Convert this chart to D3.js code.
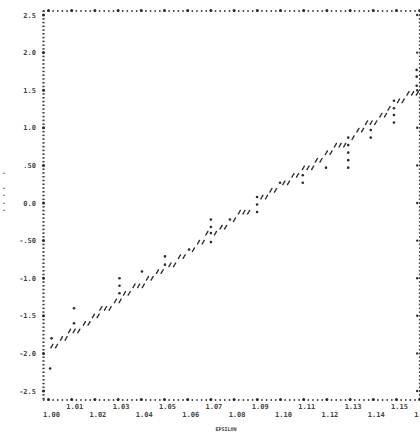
<!DOCTYPE html>
<html>
<head>
<meta charset="utf-8">
<script src="https://cdn.jsdelivr.net/npm/d3@7/dist/d3.min.js"></script>
<style>
  html, body { margin: 0; padding: 0; background: #fff; }
  svg { display: block; }
  .lbl { font-family: 'DejaVu Sans Mono', monospace; font-weight: bold; fill: #444; }
</style>
</head>
<body>
<div id="container"></div>
<script>
// y tick values and their printed labels
const yTicks = [2.5, 2.0, 1.5, 1.0, 0.5, 0.0, -0.5, -1.0, -1.5, -2.0, -2.5];
const yTickLabels = ['2.5', '2.0', '1.5', '1.0', '.50', '0.0', '-.50', '-1.0', '-1.5', '-2.0', '-2.5'];

// x tick values and labels
const xTicks = [1.00, 1.01, 1.02, 1.03, 1.04, 1.05, 1.06, 1.07, 1.08, 1.09, 1.10, 1.11, 1.12, 1.13, 1.14, 1.15, 1.16];
const xTickLabels = ['1.00', '1.01', '1.02', '1.03', '1.04', '1.05', '1.06', '1.07', '1.08', '1.09', '1.10', '1.11', '1.12', '1.13', '1.14', '1.15', '1.16'];

// printed "/" characters: [epsilon of first char, value, number of chars in the row]
const lineRuns = [
  [1.0015, -1.90, 2], [1.0056, -1.80, 2], [1.0091, -1.70, 3], [1.0155, -1.60, 2],
  [1.0194, -1.50, 2], [1.0226, -1.40, 3], [1.0289, -1.30, 2], [1.0328, -1.20, 2],
  [1.0369, -1.10, 3], [1.0427, -1.00, 2], [1.0470, -0.91, 2], [1.0524, -0.82, 2],
  [1.0565, -0.71, 2], [1.0625, -0.62, 1], [1.0647, -0.52, 2], [1.0683, -0.40, 1],
  [1.0720, -0.40, 1], [1.0744, -0.32, 2], [1.0802, -0.22, 1], [1.0823, -0.12, 3],
  [1.0920, 0.08, 2], [1.0959, 0.17, 2], [1.1015, 0.27, 2], [1.1054, 0.37, 2],
  [1.1099, 0.47, 3], [1.1155, 0.57, 2], [1.1198, 0.67, 2], [1.1237, 0.77, 3],
  [1.1313, 0.87, 1], [1.1334, 0.97, 2], [1.1371, 1.07, 3], [1.1433, 1.17, 2],
  [1.1468, 1.26, 1], [1.1509, 1.36, 2], [1.1550, 1.46, 3]
];

// printed "*" points: [epsilon, value]
const starPts = [
  [1.0007, -2.20], [1.0013, -1.80], [1.0110, -1.60], [1.0110, -1.40],
  [1.0306, -1.20], [1.0306, -1.10], [1.0306, -1.00], [1.0403, -0.91],
  [1.0502, -0.82], [1.0502, -0.71], [1.0606, -0.62],
  [1.0700, -0.52], [1.0700, -0.40], [1.0700, -0.32], [1.0700, -0.22],
  [1.0782, -0.22], [1.0899, -0.12], [1.0899, -0.02], [1.0899, 0.08],
  [1.0998, 0.27], [1.1096, 0.27], [1.1096, 0.37], [1.1196, 0.47],
  [1.1292, 0.47], [1.1292, 0.57], [1.1292, 0.67], [1.1292, 0.77], [1.1292, 0.87],
  [1.1389, 0.87], [1.1389, 0.97],
  [1.1489, 1.07], [1.1489, 1.17], [1.1489, 1.26], [1.1489, 1.36],
  [1.1587, 1.56], [1.1587, 1.68], [1.1587, 1.77]
];

const width = 420, height = 434;
const colStep = 0.002, rowStep = 0.05;

const svg = d3.select('#container').append('svg')
  .attr('width', width)
  .attr('height', height);

const x = d3.scaleLinear().domain([1.0, 1.16]).range([48.5, 419.7]);
const y = d3.scaleLinear().domain([-2.5, 2.5]).range([391, 15]);

const axisX = x(1.0) - 5;      // left border column
const rightX = x(1.16);
const topY = y(2.5) - 4;
const botY = y(-2.5) + 9;

const ink = '#2b2b2b';
const frame = svg.append('g').attr('fill', '#3a3a3a');

// left and right border: one mark per printer row
const rows = d3.range(2.55, -2.62, -rowStep);
frame.selectAll('.lrow').data(rows).enter()
  .append('rect')
  .attr('x', axisX - 1.1)
  .attr('y', d => y(d) - 0.7)
  .attr('width', 2.2)
  .attr('height', 1.5);
frame.selectAll('.rrow').data(rows).enter()
  .append('circle')
  .attr('cx', rightX)
  .attr('cy', d => y(d))
  .attr('r', 0.9);

// tick marks on left / right border
frame.selectAll('.ltick').data(yTicks).enter()
  .append('circle')
  .attr('cx', axisX)
  .attr('cy', d => y(d))
  .attr('r', 1.5)
  .attr('fill', ink);
frame.selectAll('.rtick').data(yTicks).enter()
  .append('circle')
  .attr('cx', rightX - 2.5)
  .attr('cy', d => y(d))
  .attr('r', 1.2)
  .attr('fill', ink);

// top and bottom border: one mark per printer column
const cols = d3.range(-1, 81).map(k => 1 + k * colStep);
[topY, botY].forEach(yy => {
  frame.append('g').selectAll('circle').data(cols).enter()
    .append('circle')
    .attr('cx', d => x(d))
    .attr('cy', yy)
    .attr('r', 0.9);
  frame.append('g').selectAll('circle').data(xTicks).enter()
    .append('circle')
    .attr('cx', d => x(d))
    .attr('cy', yy - 0.5)
    .attr('r', 1.5)
    .attr('fill', ink);
});

// y tick labels
svg.append('g').selectAll('text').data(yTicks).enter()
  .append('text')
  .attr('class', 'lbl')
  .attr('x', 36)
  .attr('y', d => y(d) + 2.5)
  .attr('text-anchor', 'end')
  .attr('font-size', 7)
  .text((d, i) => yTickLabels[i]);

// x tick labels, staggered on two lines
svg.append('g').selectAll('text').data(xTicks).enter()
  .append('text')
  .attr('class', 'lbl')
  .attr('x', d => x(d) + 3)
  .attr('y', (d, i) => i % 2 === 0 ? 417 : 409)
  .attr('text-anchor', 'middle')
  .attr('font-size', 7)
  .text((d, i) => xTickLabels[i]);

// axis titles
svg.append('text')
  .attr('class', 'lbl')
  .attr('x', 226)
  .attr('y', 431)
  .attr('text-anchor', 'middle')
  .attr('font-size', 5)
  .text('EPSILON');

svg.append('g').selectAll('text').data(['.', '', '.', '.', '.', '.']).enter()
  .append('text')
  .attr('class', 'lbl')
  .attr('x', 2)
  .attr('y', (d, i) => 174 + i * 7.4)
  .attr('font-size', 7)
  .text(d => d);

// expand each printed row into its characters
const slashes = [];
lineRuns.forEach(([e, v, n]) => {
  for (let i = 0; i < n; i++) slashes.push([e + i * colStep, v]);
});

svg.append('g').selectAll('path').data(slashes).enter()
  .append('path')
  .attr('d', d => {
    const cx = x(d[0]), cy = y(d[1]);
    return `M${cx - 1.1},${cy + 1.9}L${cx + 1.1},${cy - 1.9}`;
  })
  .attr('stroke', ink)
  .attr('stroke-width', 1.4)
  .attr('stroke-dasharray', '1.6,0.9')
  .attr('stroke-linecap', 'round');

svg.append('g').selectAll('circle').data(starPts).enter()
  .append('circle')
  .attr('cx', d => x(d[0]))
  .attr('cy', d => y(d[1]))
  .attr('r', 1.3)
  .attr('fill', ink);
</script>
</body>
</html>
